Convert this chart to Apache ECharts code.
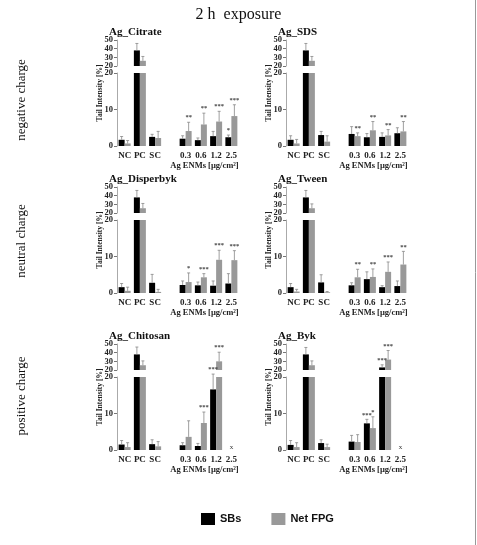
<!DOCTYPE html>
<html>
<head>
<meta charset="utf-8">
<script src="https://cdn.jsdelivr.net/npm/echarts@6/dist/echarts.min.js"></script>
<style>
  html, body { margin: 0; padding: 0; background: #fff; }
  #chart { width: 477px; height: 545px; }
</style>
</head>
<body>
<div id="chart"></div>
<script>
// categories on every x axis ('' is the empty slot between controls and doses)
const categories = ['NC', 'PC', 'SC', '', '0.3', '0.6', '1.2', '2.5']
const panelNames = ['Ag_Citrate', 'Ag_SDS', 'Ag_Disperbyk', 'Ag_Tween', 'Ag_Chitosan', 'Ag_Byk']
const rowNames = ['negative charge', 'neutral charge', 'positive charge']
const upperTicks = [20, 50]   // broken axis, upper part
const lowerTicks = [0, 20]    // lower part
const tickStep = 10

// mean values, '-' = empty slot, null = not measured (marked with x)
const sbsMean = [
    [1.7, 38, 2.5, '-', 2.0, 1.6, 2.7, 2.4],
    [1.7, 38, 3.0, '-', 3.3, 2.4, 2.5, 3.5],
    [1.6, 38, 2.8, '-', 2.2, 2.1, 2.0, 2.6],
    [1.6, 38, 2.9, '-', 2.1, 3.8, 1.6, 1.9],
    [1.5, 38, 1.6, '-', 1.3, 1.1, 16.6, null],
    [1.4, 38, 1.9, '-', 2.3, 7.3, 23, null],
]
// top of the error bar (mean + SD)
const sbsTop = [
    [2.6, 46, 3.2, '-', 2.8, 2.2, 4.0, 3.0],
    [2.8, 46, 4.0, '-', 5.3, 3.4, 3.6, 5.0],
    [2.6, 46, 5.1, '-', 3.3, 3.0, 3.3, 5.3],
    [2.6, 46, 5.0, '-', 2.8, 5.8, 2.0, 3.3],
    [2.6, 46.5, 2.8, '-', 2.0, 1.8, 20.8, null],
    [2.6, 46, 2.8, '-', 4.0, 8.4, 26, null],
]
const fpgMean = [
    [0.7, 26, 2.2, '-', 4.1, 5.9, 6.7, 8.2],
    [0.7, 26, 1.2, '-', 2.7, 4.3, 2.9, 4.0],
    [0.6, 25.5, 0.3, '-', 3.0, 4.3, 9.1, 9.0],
    [0.4, 25.5, 0.2, '-', 4.3, 4.4, 5.8, 7.8],
    [0.8, 25.5, 1.0, '-', 3.6, 7.4, 30, null],
    [0.8, 25.5, 0.8, '-', 2.2, 6.0, 32, null],
]
const fpgTop = [
    [1.5, 31, 4.0, '-', 6.5, 9.0, 9.5, 11.3],
    [1.8, 31, 2.8, '-', 3.6, 6.7, 4.5, 6.7],
    [1.6, 31, 1.0, '-', 5.5, 5.3, 11.7, 11.6],
    [1.0, 30.5, 0.4, '-', 6.5, 6.6, 8.5, 11.4],
    [2.0, 30.5, 2.3, '-', 8.0, 10.4, 40.5, null],
    [2.0, 30.5, 1.6, '-', 4.2, 9.1, 42.5, null],
]
const sbsStars = [
    ['', '', '', '', '', '', '', '*'],
    ['', '', '', '', '', '', '', ''],
    ['', '', '', '', '', '', '', ''],
    ['', '', '', '', '', '', '', ''],
    ['', '', '', '', '', '', '***', ''],
    ['', '', '', '', '', '***', '***', ''],
]
const fpgStars = [
    ['', '', '', '', '**', '**', '***', '***'],
    ['', '', '', '', '**', '**', '**', '**'],
    ['', '', '', '', '*', '***', '***', '***'],
    ['', '', '', '', '**', '**', '***', '**'],
    ['', '', '', '', '', '***', '***', ''],
    ['', '', '', '', '', '*', '***', ''],
]

const serif = '"Liberation Serif", "DejaVu Serif", serif'
const colLeft = [117, 286]
const gridW = 122
const rowTop = [40, 187, 344]
const rowLabelY = [100, 241, 396]
const upperH = 26
const gapH = 7
const lowerH = 73
const barW = 6

const chart = echarts.init(document.getElementById('chart'))

let grids = [], xAxes = [], yAxes = [], series = [], graphics = []
let titles = [{
    text: '2 h  exposure',
    left: 'center',
    top: 2,
    textStyle: { fontFamily: serif, fontWeight: 'normal', fontSize: 16, color: '#111' },
}]

function errItems(p, upper) {
    let items = []
    let meta = []
    ;[[sbsMean, sbsTop, sbsStars], [fpgMean, fpgTop, fpgStars]].forEach((set, side) => {
        set[0][p].forEach((m, i) => {
            if (m === '-') return
            if (m === null) {
                if (!upper && side === 0) {
                    items.push([i, 2, 0.9, 0.9])
                    meta.push('x')
                }
                return
            }
            if ((m > 20) !== upper) return
            items.push([i, side, m, set[1][p][i]])
            meta.push(set[2][p][i])
        })
    })
    return { items, meta }
}

function valueAxis(g, ticks, opts) {
    return Object.assign({
        type: 'value',
        gridIndex: g,
        position: 'left',
        offset: 0,
        min: ticks[0],
        max: ticks[1],
        interval: tickStep,
        splitLine: { show: false },
        axisLine: { show: true, lineStyle: { color: '#aaa', width: 1 } },
        axisTick: { show: true, length: 3, lineStyle: { color: '#777' } },
    }, opts)
}

const labelStyle = {
    margin: 4,
    fontFamily: serif,
    fontWeight: 'bold',
    fontSize: 8.5,
    color: '#222',
}

panelNames.forEach((name, p) => {
    const col = p % 2
    const row = Math.floor(p / 2)
    const left = colLeft[col]
    const top = rowTop[row]
    ;[true, false].forEach((upper) => {
        const g = grids.length
        grids.push({
            left: left,
            top: upper ? top : top + upperH + gapH,
            width: gridW,
            height: upper ? upperH : lowerH,
        })
        xAxes.push({
            type: 'category',
            gridIndex: g,
            data: categories,
            axisLine: { show: false },
            axisTick: { show: false },
            axisLabel: {
                show: !upper,
                interval: 0,
                margin: 5,
                fontFamily: serif,
                fontWeight: 'bold',
                fontSize: 9,
                color: '#222',
            },
        })
        const yi = yAxes.length
        if (upper) {
            // labels are split over two stacked axes so the tight 20..50 part keeps all four
            yAxes.push(valueAxis(g, upperTicks, {
                axisLabel: Object.assign({}, labelStyle, {
                    showMinLabel: true, showMaxLabel: true,
                    formatter: (v) => (v === 20 || v === 40 ? String(v) : ''),
                }),
            }))
            yAxes.push(valueAxis(g, upperTicks, {
                axisLine: { show: false },
                axisTick: { show: false },
                axisLabel: Object.assign({}, labelStyle, {
                    showMinLabel: true, showMaxLabel: true,
                    formatter: (v) => (v === 30 || v === 50 ? String(v) : ''),
                }),
            }))
        } else {
            yAxes.push(valueAxis(g, lowerTicks, {
                axisLabel: Object.assign({}, labelStyle, { showMinLabel: true, showMaxLabel: true }),
            }))
        }
        const pick = (arr) => arr[p].map((v) => {
            if (v === '-' || v === null) return '-'
            if (upper) return v > 20 ? v : '-'
            return Math.min(v, 20)
        })
        series.push({
            name: 'SBs',
            type: 'bar',
            xAxisIndex: g,
            yAxisIndex: yi,
            barWidth: barW,
            barGap: '0%',
            itemStyle: { color: '#000' },
            data: pick(sbsMean),
        })
        series.push({
            name: 'Net FPG',
            type: 'bar',
            xAxisIndex: g,
            yAxisIndex: yi,
            barWidth: barW,
            barGap: '0%',
            itemStyle: { color: '#999' },
            data: pick(fpgMean),
        })
        const err = errItems(p, upper)
        series.push({
            type: 'custom',
            xAxisIndex: g,
            yAxisIndex: yi,
            clip: false,
            silent: true,
            z: 5,
            encode: { x: 0, y: [2, 3] },
            data: err.items,
            renderItem: (params, api) => {
                const cat = api.value(0)
                const side = api.value(1)
                const label = err.meta[params.dataIndex]
                if (side === 2) {
                    const pt = api.coord([cat, api.value(2)])
                    return {
                        type: 'text',
                        style: {
                            x: pt[0], y: pt[1], text: label, align: 'center', verticalAlign: 'middle',
                            font: '7px ' + serif, fill: '#333',
                        },
                    }
                }
                const off = side === 0 ? -barW / 2 : barW / 2
                const a = api.coord([cat, api.value(2)])
                const b = api.coord([cat, api.value(3)])
                const x = a[0] + off
                let children = [
                    { type: 'line', shape: { x1: x, y1: a[1], x2: x, y2: b[1] }, style: { stroke: '#888', lineWidth: 0.8 } },
                    { type: 'line', shape: { x1: x - 1.5, y1: b[1], x2: x + 1.5, y2: b[1] }, style: { stroke: '#888', lineWidth: 0.8 } },
                ]
                if (label) {
                    children.push({
                        type: 'text',
                        style: {
                            x: x, y: b[1] - 1, text: label, align: 'center', verticalAlign: 'bottom',
                            font: 'bold 6.5px ' + serif, fill: '#444',
                        },
                    })
                }
                return { type: 'group', children }
            },
        })
    })

    titles.push({
        text: name,
        left: left - 13,
        top: top - 18,
        textStyle: { fontFamily: serif, fontWeight: 'bold', fontSize: 11, color: '#111' },
    })
    graphics.push({
        type: 'text',
        x: left - 17,
        y: top + 53,
        rotation: Math.PI / 2,
        style: {
            text: 'Tail Intensity [%]', align: 'center', verticalAlign: 'middle',
            font: 'bold 7.5px ' + serif, fill: '#222',
        },
    })
    graphics.push({
        type: 'text',
        x: left + gridW * 6 / 8 - 4,
        y: top + upperH + gapH + lowerH + 20,
        style: {
            text: 'Ag ENMs [µg/cm²]', align: 'center', verticalAlign: 'middle',
            font: 'bold 8.5px ' + serif, fill: '#222',
        },
    })
})

rowNames.forEach((name, r) => {
    graphics.push({
        type: 'text',
        x: 22,
        y: rowLabelY[r],
        rotation: Math.PI / 2,
        style: {
            text: name, align: 'center', verticalAlign: 'middle',
            font: '13px ' + serif, fill: '#111',
        },
    })
})
graphics.push({
    type: 'line',
    shape: { x1: 475.5, y1: 0, x2: 475.5, y2: 545 },
    style: { stroke: '#999', lineWidth: 1 },
})

chart.setOption({
    animation: false,
    title: titles,
    legend: {
        data: ['SBs', 'Net FPG'],
        left: 196,
        top: 508,
        icon: 'rect',
        itemWidth: 14,
        itemHeight: 12,
        itemGap: 30,
        textStyle: { fontFamily: '"Liberation Sans", Arial, sans-serif', fontWeight: 'bold', fontSize: 11, color: '#111' },
    },
    grid: grids,
    xAxis: xAxes,
    yAxis: yAxes,
    series: series,
    graphic: graphics,
})
</script>
</body>
</html>
